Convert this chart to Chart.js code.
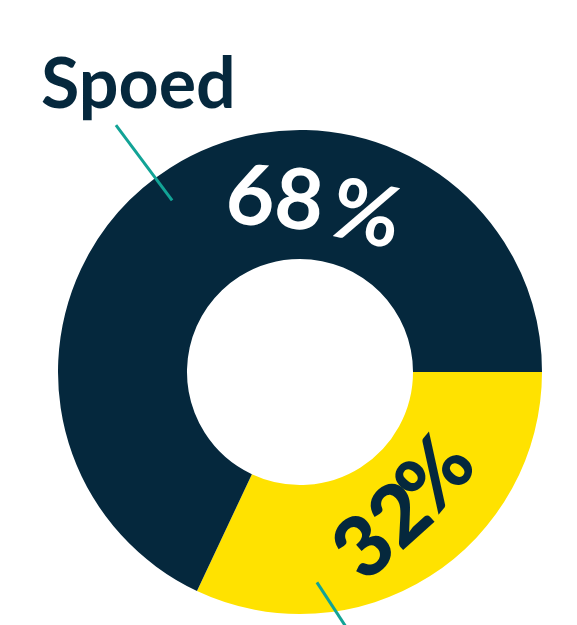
<!DOCTYPE html>
<html>
<head>
<meta charset="utf-8">
<script src="https://cdn.jsdelivr.net/npm/chart.js@4/dist/chart.umd.min.js"></script>
<style>
  html, body { margin: 0; padding: 0; background: #ffffff; }
  #wrap { width: 577px; height: 625px; }
</style>
</head>
<body>
<div id="wrap"><canvas id="myChart" width="577" height="625"></canvas></div>
<script>

  /* Data
  -----------------------------------------------*/

  let labels = ['Overig', 'Spoed'];
  let values = [32, 68];
  let colors = ['#ffe200', '#05283d'];

  /* Labels on the ring (angle in degrees, clockwise from 3 o'clock)
  -----------------------------------------------*/

  let ringTexts = [
    { text: '68', angle: -98.3, r: 174, rot: 5, color: '#ffffff', weight: 'bold' },
    { text: '%', angle: -67.2, r: 170, rot: 12, color: '#ffffff', weight: 'bold' },
    { text: '32', angle: 62.6, r: 180, rot: -42, color: '#05283d', weight: '900' },
    { text: '%', angle: 37.1, r: 171, rot: -50, color: '#05283d', weight: '900' }
  ];

  let leaders = [
    { a1: -126.7, r1: 214, a2: -126.7, r2: 308 },
    { a1: 85.4, r1: 211, a2: 79.5, r2: 262 }
  ];

  function polar(cx, cy, deg, r) {
    let a = deg * Math.PI / 180;
    return [cx + r * Math.cos(a), cy + r * Math.sin(a)];
  }

  let overlay = {
    id: 'overlay',
    afterDatasetsDraw: function(chart) {
      let ctx = chart.ctx;
      let arc = chart.getDatasetMeta(0).data[0];
      let cx = arc.x, cy = arc.y;

      // leader lines
      ctx.save();
      ctx.strokeStyle = '#12a396';
      ctx.lineWidth = 3;
      leaders.forEach(function(l) {
        let p1 = polar(cx, cy, l.a1, l.r1);
        let p2 = polar(cx, cy, l.a2, l.r2);
        ctx.beginPath();
        ctx.moveTo(p1[0], p1[1]);
        ctx.lineTo(p2[0], p2[1]);
        ctx.stroke();
      });
      ctx.restore();

      // percentages
      ringTexts.forEach(function(t) {
        let p = polar(cx, cy, t.angle, t.r);
        ctx.save();
        ctx.translate(p[0], p[1]);
        ctx.rotate(t.rot * Math.PI / 180);
        ctx.font = t.weight + ' 84px Lato';
        ctx.fillStyle = t.color;
        ctx.textAlign = 'center';
        ctx.textBaseline = 'middle';
        ctx.fillText(t.text, 0, 0);
        ctx.restore();
      });

      // category label
      ctx.save();
      ctx.font = 'bold 70px Lato';
      ctx.fillStyle = '#05283d';
      ctx.textAlign = 'left';
      ctx.textBaseline = 'alphabetic';
      ctx.fillText(labels[1], 41, 108);
      ctx.restore();
    }
  };

  function charVisual() {
    let ctx = document.getElementById('myChart').getContext('2d');
    let myChart = new Chart(ctx, {
      type: 'doughnut',
      data: {
        labels: labels,
        datasets: [{
          data: values,
          backgroundColor: colors,
          borderWidth: 0
        }]
      },
      options: {
        responsive: false,
        animation: false,
        rotation: 90,
        cutout: '46.7%',
        layout: { padding: { left: 58, right: 35, top: 130, bottom: 11 } },
        plugins: {
          legend: { display: false },
          tooltip: { enabled: false }
        }
      },
      plugins: [overlay]
    });
  }

  Promise.all([
    document.fonts.load('bold 84px Lato'),
    document.fonts.load('900 84px Lato')
  ]).then(charVisual, charVisual);

</script>
</body>
</html>
